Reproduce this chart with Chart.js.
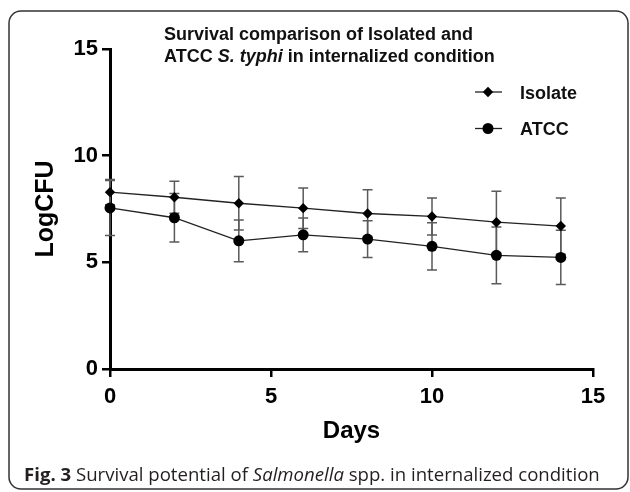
<!DOCTYPE html>
<html>
<head>
<meta charset="utf-8">
<script src="https://cdn.jsdelivr.net/npm/chart.js@4.4.1/dist/chart.umd.min.js"></script>
<style>
  html, body { margin: 0; padding: 0; background: #fff; }
  #wrap { position: relative; width: 630px; height: 492px; }
</style>
</head>
<body>
<div id="wrap"><canvas id="survivalChart" width="630" height="492"></canvas></div>
<script>
const days = [0, 2, 4, 6, 8, 10, 12, 14];
const isolateMean = [8.29, 8.05, 7.77, 7.54, 7.29, 7.15, 6.88, 6.70];
const isolateSD = [0.59, 0.75, 1.25, 0.95, 1.11, 0.87, 1.45, 1.32];
const atccMean = [7.55, 7.09, 6.01, 6.29, 6.09, 5.75, 5.33, 5.23];
const atccSD = [1.29, 1.14, 0.98, 0.79, 0.86, 1.11, 1.33, 1.27];
const axisTicks = [0, 5, 10, 15];

const seriesNames = ['Isolate', 'ATCC'];
const titleLines = [
    [{ t: 'Survival comparison of Isolated and', s: '' }],
    [{ t: 'ATCC ', s: '' }, { t: 'S. typhi', s: 'italic ' }, { t: ' in internalized condition', s: '' }]
];
const captionRuns = [
    { t: 'Fig. 3', s: 'bold ' },
    { t: ' Survival potential of ', s: '' },
    { t: 'Salmonella', s: 'italic ' },
    { t: ' spp. in internalized condition', s: '' }
];

const ARIAL = '"Liberation Sans", Arial, sans-serif';

function toPoints(xs, ys) {
    return xs.map((x, i) => ({ x: x, y: ys[i] }));
}

function drawRuns(ctx, runs, x, y, size, family, base) {
    let cx = x;
    runs.forEach(r => {
        ctx.font = (base || '') + r.s + size + 'px ' + family;
        ctx.fillText(r.t, cx, y);
        cx += ctx.measureText(r.t).width;
    });
}

// error bars drawn behind the markers
const errorBars = {
    id: 'errorBars',
    beforeDatasetsDraw(chart) {
        const ctx = chart.ctx;
        const xs = chart.scales.x;
        const ys = chart.scales.y;
        const sds = [isolateSD, atccSD];
        ctx.save();
        ctx.strokeStyle = '#5a5a5a';
        ctx.lineWidth = 1.5;
        chart.data.datasets.forEach((ds, di) => {
            ds.data.forEach((p, i) => {
                const px = xs.getPixelForValue(p.x);
                const top = ys.getPixelForValue(p.y + sds[di][i]);
                const bot = ys.getPixelForValue(p.y - sds[di][i]);
                ctx.beginPath();
                ctx.moveTo(px, top); ctx.lineTo(px, bot);
                ctx.moveTo(px - 5, top); ctx.lineTo(px + 5, top);
                ctx.moveTo(px - 5, bot); ctx.lineTo(px + 5, bot);
                ctx.stroke();
            });
        });
        ctx.restore();
    }
};

// frame, title, legend and caption
const decorations = {
    id: 'decorations',
    afterDraw(chart) {
        const ctx = chart.ctx;
        ctx.save();

        ctx.strokeStyle = '#333';
        ctx.lineWidth = 1.5;
        ctx.beginPath();
        ctx.roundRect(9, 11, 619, 478, 12);
        ctx.stroke();

        ctx.fillStyle = '#111';
        ctx.textBaseline = 'alphabetic';
        ctx.textAlign = 'left';
        drawRuns(ctx, titleLines[0], 164, 40, 18, ARIAL, 'bold ');
        drawRuns(ctx, titleLines[1], 164, 62, 18, ARIAL, 'bold ');

        const legendY = [92, 128.5];
        chart.data.datasets.forEach((ds, i) => {
            const y = legendY[i];
            ctx.strokeStyle = '#222';
            ctx.lineWidth = 1.3;
            ctx.beginPath();
            ctx.moveTo(475, y); ctx.lineTo(502, y);
            ctx.stroke();
            ctx.fillStyle = '#000';
            Chart.helpers.drawPoint(ctx, {
                pointStyle: ds.pointStyle,
                radius: ds.pointRadius,
                borderWidth: 0
            }, 488, y);
            ctx.fillStyle = '#111';
            ctx.font = 'bold 18px ' + ARIAL;
            ctx.fillText(seriesNames[i], 520, y + 6.5);
        });

        ctx.fillStyle = '#231f20';
        drawRuns(ctx, captionRuns, 24, 481, 18.6, '"Open Sans", sans-serif', '');

        ctx.restore();
    }
};

new Chart(document.getElementById('survivalChart'), {
    type: 'line',
    data: {
        datasets: [
            {
                label: seriesNames[0],
                data: toPoints(days, isolateMean),
                borderColor: '#222',
                borderWidth: 1.3,
                pointStyle: 'rectRot',
                pointRadius: 5.2,
                pointBackgroundColor: '#000',
                pointBorderColor: '#000',
                pointBorderWidth: 0,
                clip: false
            },
            {
                label: seriesNames[1],
                data: toPoints(days, atccMean),
                borderColor: '#222',
                borderWidth: 1.3,
                pointStyle: 'circle',
                pointRadius: 5.5,
                pointBackgroundColor: '#000',
                pointBorderColor: '#000',
                pointBorderWidth: 0,
                clip: false
            }
        ]
    },
    options: {
        responsive: false,
        devicePixelRatio: 1,
        animation: false,
        layout: {
            padding: { left: 0, top: 49, right: 37, bottom: 43 }
        },
        plugins: {
            legend: { display: false },
            tooltip: { enabled: false },
            title: { display: false }
        },
        scales: {
            x: {
                type: 'linear',
                min: 0,
                max: 15,
                afterFit: (scale) => { scale.height = 80; },
                afterBuildTicks: (scale) => { scale.ticks = axisTicks.map(v => ({ value: v })); },
                grid: {
                    drawOnChartArea: false,
                    drawTicks: true,
                    tickLength: 8,
                    color: '#000',
                    lineWidth: 2.5
                },
                border: { display: true, color: '#000', width: 3 },
                ticks: {
                    color: '#000',
                    padding: 7,
                    maxRotation: 0,
                    font: { family: ARIAL, weight: 'bold', size: 22 }
                },
                title: {
                    display: true,
                    text: 'Days',
                    color: '#000',
                    padding: { top: 0, bottom: 3 },
                    font: { family: ARIAL, weight: 'bold', size: 24 }
                }
            },
            y: {
                min: 0,
                max: 15,
                afterFit: (scale) => { scale.width = 110; },
                afterBuildTicks: (scale) => { scale.ticks = axisTicks.map(v => ({ value: v })); },
                grid: {
                    drawOnChartArea: false,
                    drawTicks: true,
                    tickLength: 8,
                    color: '#000',
                    lineWidth: 2.5
                },
                border: { display: true, color: '#000', width: 3 },
                ticks: {
                    color: '#000',
                    padding: 4,
                    font: { family: ARIAL, weight: 'bold', size: 22 }
                },
                title: {
                    display: true,
                    text: 'LogCFU',
                    color: '#000',
                    padding: { top: 31, bottom: 0 },
                    font: { family: ARIAL, weight: 'bold', size: 25 }
                }
            }
        }
    },
    plugins: [errorBars, decorations]
});
</script>
</body>
</html>
